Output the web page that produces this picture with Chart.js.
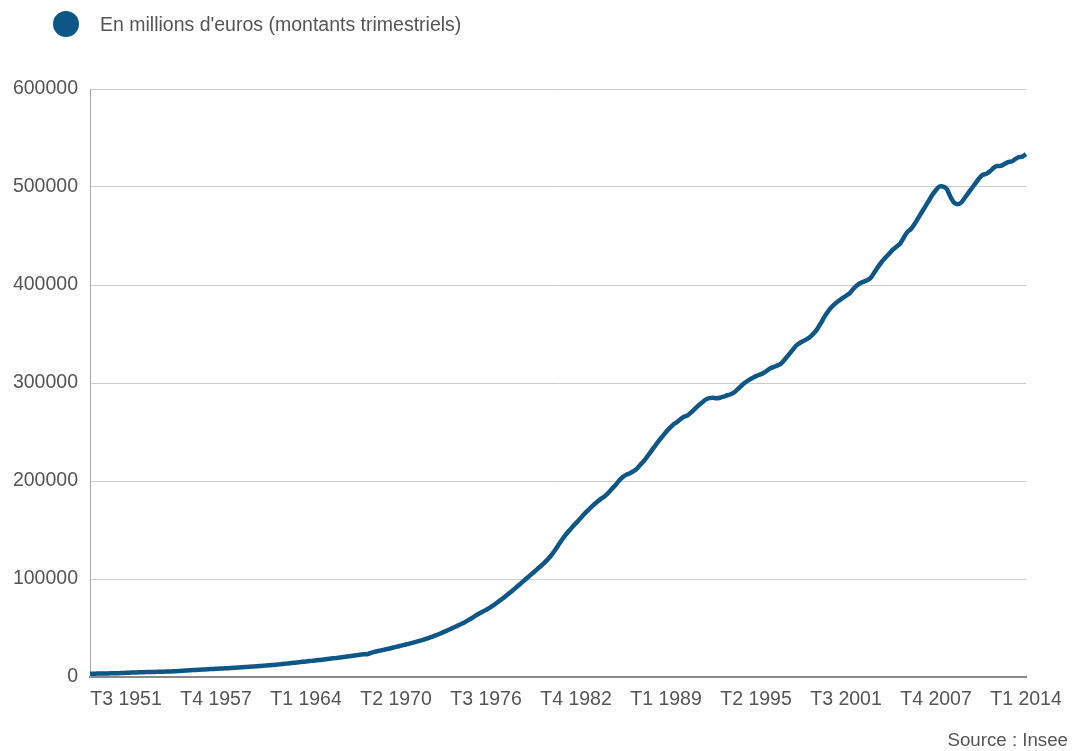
<!DOCTYPE html>
<html>
<head>
<meta charset="utf-8">
<script src="https://cdn.jsdelivr.net/npm/chart.js@4"></script>
<style>
  html, body { margin: 0; padding: 0; background: #ffffff; }
  #wrap { position: relative; width: 1076px; height: 751px; }
</style>
</head>
<body>
<div id="wrap"><canvas id="c"></canvas></div>
<script>
// ---- Data ----
const startYear = 1949;
const quarterCount = 261; // T1 1949 .. T1 2014

const categories = [];
for (let i = 0; i < quarterCount; i++) {
  categories.push('T' + (i % 4 + 1) + ' ' + (startYear + Math.floor(i / 4)));
}

const tickLabels = ['T3 1951', 'T4 1957', 'T1 1964', 'T2 1970', 'T3 1976', 'T4 1982',
                    'T1 1989', 'T2 1995', 'T3 2001', 'T4 2007', 'T1 2014'];

const yTicks = [0, 100000, 200000, 300000, 400000, 500000, 600000];

const seriesName = "En millions d'euros (montants trimestriels)";
const sourceText = 'Source : Insee';

const values = [
  3300, 3380, 3450, 3520, 3600, 3680, 3760, 3850, 3950, 4080,
  4230, 4400, 4560, 4700, 4820, 4930, 5030, 5120, 5220, 5320,
  5420, 5530, 5650, 5780, 5920, 6150, 6400, 6700, 6950, 7150,
  7350, 7550, 7750, 7950, 8150, 8350, 8550, 8750, 8950, 9150,
  9400, 9650, 9900, 10150, 10400, 10650, 10900, 11150, 11450, 11750,
  12050, 12350, 12700, 13050, 13450, 13850, 14250, 14650, 15050, 15450,
  15850, 16250, 16650, 17050, 17450, 17900, 18350, 18800, 19250, 19700,
  20150, 20650, 21150, 21650, 22200, 22750, 23300, 23200, 24700, 25600,
  26500, 27300, 28100, 28900, 29800, 30700, 31600, 32500, 33400, 34300,
  35300, 36300, 37400, 38500, 39700, 41000, 42400, 43900, 45500, 47100,
  48800, 50500, 52200, 53900, 55600, 57800, 60000, 62300, 64600, 66500,
  68500, 70500, 73000, 75700, 78400, 81200, 84100, 87100, 90200, 93300,
  96500, 99700, 102900, 106100, 109300, 112500, 115700, 119500, 123500, 128500,
  134000, 139500, 144500, 149000, 153000, 157000, 161000, 165000, 169000, 172500,
  176000, 179000, 182000, 184500, 188000, 192000, 196000, 200500, 204000, 206500,
  208000, 210000, 213000, 217000, 221000, 226000, 231000, 236000, 241000, 245500,
  250000, 254000, 257500, 260000, 263000, 265500, 267000, 270000, 273500, 277000,
  280000, 283000, 284500, 285000, 284500, 285000, 286000, 287500, 288500, 290500,
  294000, 297500, 300500, 303000, 305000, 307000, 308500, 310000, 312500, 315000,
  316500, 318000, 320000, 324000, 328500, 333000, 337500, 340500, 342500, 344500,
  347000, 350500, 355000, 361000, 367500, 373000, 377500, 381000, 384000, 386500,
  389000, 391500, 396000, 399500, 402000, 403500, 405000, 408000, 413500, 419000,
  424000, 428000, 432000, 436000, 439000, 442000, 448000, 454000, 457000, 462000,
  468000, 474000, 480000, 486000, 492000, 497000, 500500, 500500, 498000, 490000,
  484000, 482500, 484000, 489000, 494000, 499000, 504000, 509000, 512500, 513500,
  516000, 519500, 521500, 521500, 523500, 525500, 526000, 528500, 530500, 531000,
  533500
];

// ---- Styles ----
const lineColor = '#0c5786';
const textColor = '#555555';
const fontFamily = '"Liberation Sans", Arial, sans-serif';

const extrasPlugin = {
  id: 'extras',
  afterDraw(chart) {
    const ctx = chart.ctx;
    ctx.save();
    // legend
    ctx.fillStyle = lineColor;
    ctx.beginPath();
    ctx.arc(66, 24, 13, 0, Math.PI * 2);
    ctx.fill();
    ctx.fillStyle = textColor;
    ctx.font = '19.5px ' + fontFamily;
    ctx.textAlign = 'left';
    ctx.textBaseline = 'middle';
    ctx.fillText(seriesName, 100, 26);
    // source
    ctx.font = '18.7px ' + fontFamily;
    ctx.textAlign = 'right';
    ctx.fillText(sourceText, 1068, 741);
    ctx.restore();
  }
};

new Chart(document.getElementById('c'), {
  type: 'line',
  data: {
    labels: categories,
    datasets: [{
      label: seriesName,
      data: values,
      borderColor: lineColor,
      backgroundColor: lineColor,
      borderWidth: 4.5,
      pointRadius: 0,
      pointHoverRadius: 0,
      tension: 0.2,
      fill: false
    }]
  },
  options: {
    responsive: true,
    maintainAspectRatio: false,
    animation: false,
    layout: { padding: { left: 0, right: 50, top: 89, bottom: 0 } },
    plugins: {
      legend: { display: false },
      tooltip: { enabled: false }
    },
    scales: {
      x: {
        type: 'category',
        offset: false,
        grid: { display: false, drawTicks: false },
        border: { display: true, color: '#8a8a8a', width: 2 },
        ticks: {
          autoSkip: false,
          maxRotation: 0,
          minRotation: 0,
          padding: 11,
          color: textColor,
          font: { family: fontFamily, size: 19.5 },
          callback: function (value, index) {
            const lab = categories[index];
            return tickLabels.includes(lab) ? lab : null;
          }
        },
        afterFit(scale) { scale.height = 74; }
      },
      y: {
        min: yTicks[0],
        max: yTicks[yTicks.length - 1],
        grid: { color: '#cccccc', lineWidth: 1, drawTicks: false },
        border: { display: true, color: '#aaaaaa', width: 1 },
        afterBuildTicks(scale) { scale.ticks = yTicks.map(v => ({ value: v })); },
        ticks: {
          padding: 12,
          color: textColor,
          font: { family: fontFamily, size: 19.5 },
          callback: function (value) { return String(value); }
        },
        afterFit(scale) { scale.width = 90; }
      }
    }
  },
  plugins: [extrasPlugin]
});
</script>
</body>
</html>
